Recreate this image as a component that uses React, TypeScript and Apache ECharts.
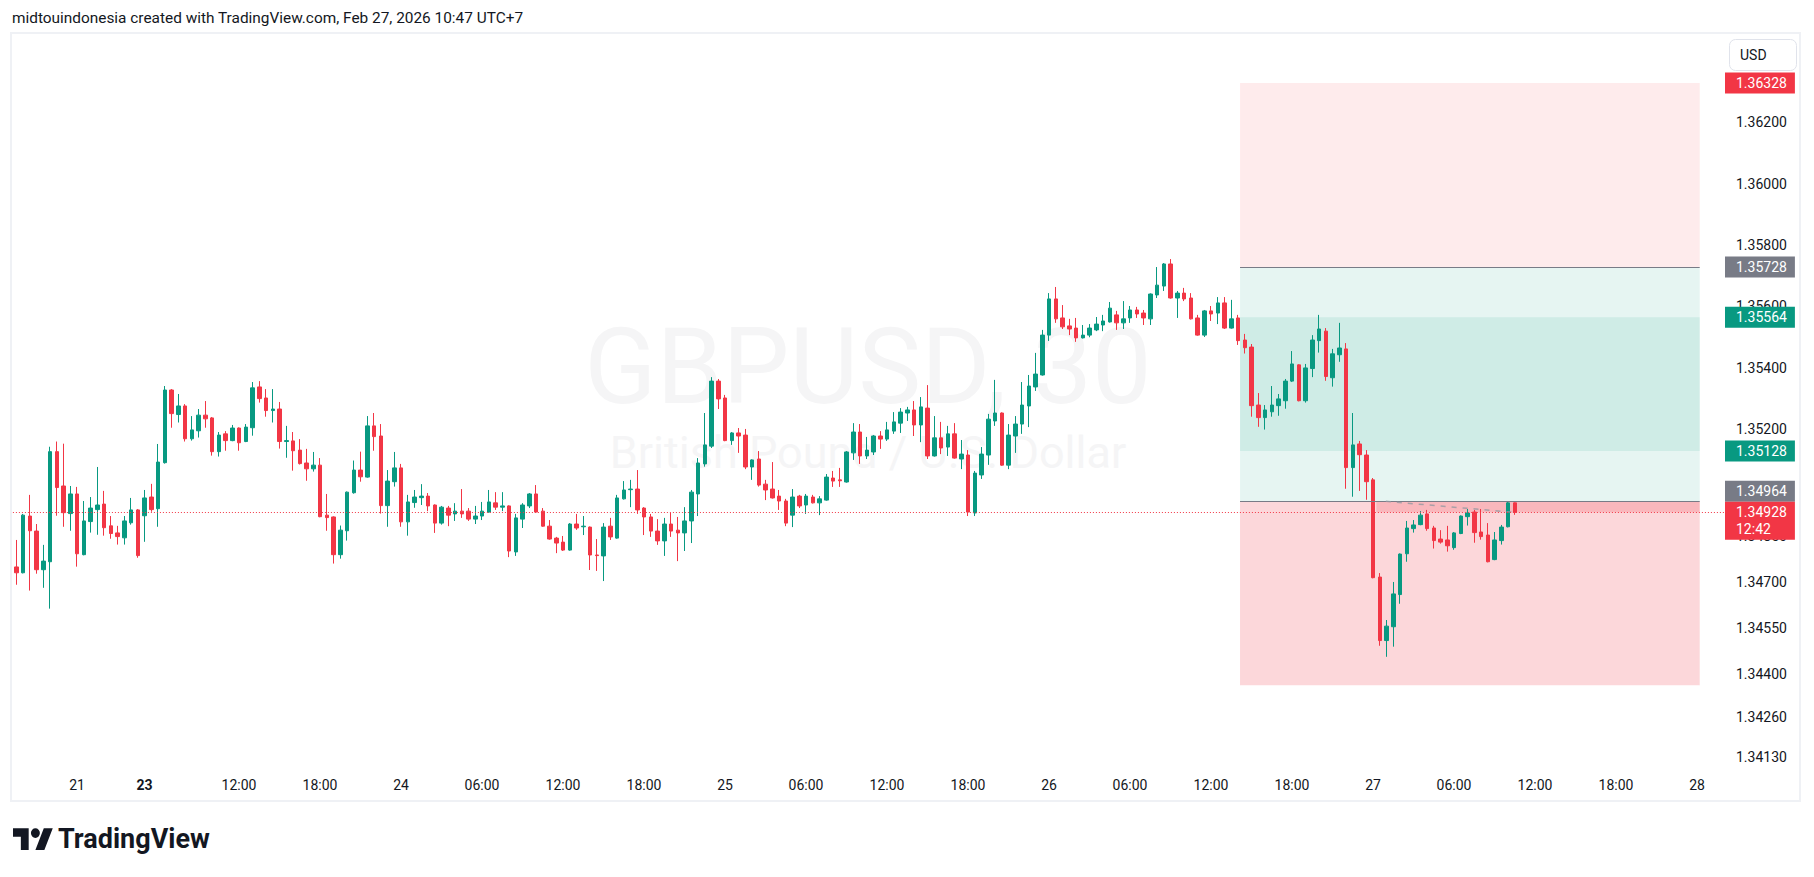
import React, { useEffect, useRef } from "react";
import * as echarts from "echarts";

// ---- candle data (30-minute bars, index 0 = Fri 20 Feb 19:30, UTC+7) ----
const OPENS = [
  1.34750, 1.34731, 1.34916, 1.34867, 1.34741, 1.34767, 1.35126, 1.35014, 1.34924, 1.34988,
  1.34790, 1.34898, 1.34937, 1.34955, 1.34884, 1.34861, 1.34845, 1.34894, 1.34936, 1.34917,
  1.34978, 1.34940, 1.35090, 1.35327, 1.35247, 1.35275, 1.35168, 1.35194, 1.35245, 1.35236,
  1.35126, 1.35184, 1.35162, 1.35203, 1.35159, 1.35204, 1.35337, 1.35301, 1.35260, 1.35265,
  1.35159, 1.35161, 1.35131, 1.35089, 1.35070, 1.35082, 1.34919, 1.34913, 1.34790, 1.34868,
  1.34992, 1.35066, 1.35043, 1.35210, 1.35177, 1.34950, 1.35028, 1.35073, 1.34897, 1.34960,
  1.34976, 1.34981, 1.34952, 1.34893, 1.34942, 1.34923, 1.34932, 1.34932, 1.34906, 1.34916,
  1.34929, 1.34959, 1.34945, 1.34949, 1.34799, 1.34906, 1.34949, 1.34988, 1.34932, 1.34883,
  1.34844, 1.34831, 1.34805, 1.34890, 1.34881, 1.34880, 1.34789, 1.34786, 1.34883, 1.34844,
  1.34972, 1.35002, 1.35004, 1.34942, 1.34913, 1.34867, 1.34835, 1.34890, 1.34870, 1.34861,
  1.34900, 1.34988, 1.35086, 1.35144, 1.35356, 1.35301, 1.35162, 1.35187, 1.35180, 1.35076,
  1.35102, 1.35020, 1.35004, 1.34981, 1.34965, 1.34919, 1.34981, 1.34952, 1.34978, 1.34959,
  1.34968, 1.35040, 1.35034, 1.35027, 1.35122, 1.35190, 1.35112, 1.35125, 1.35177, 1.35167,
  1.35193, 1.35219, 1.35252, 1.35262, 1.35213, 1.35268, 1.35112, 1.35171, 1.35141, 1.35184,
  1.35102, 1.35115, 1.34926, 1.35050, 1.35115, 1.35226, 1.35252, 1.35082, 1.35177, 1.35216,
  1.35275, 1.35337, 1.35376, 1.35506, 1.35624, 1.35562, 1.35536, 1.35529, 1.35497, 1.35506,
  1.35523, 1.35539, 1.35549, 1.35572, 1.35546, 1.35562, 1.35588, 1.35578, 1.35559, 1.35637,
  1.35666, 1.35738, 1.35627, 1.35643, 1.35627, 1.35562, 1.35506, 1.35585, 1.35578, 1.35611,
  1.35529, 1.35562, 1.35490, 1.35467, 1.35278, 1.35237, 1.35256, 1.35276, 1.35292, 1.35356,
  1.35409, 1.35292, 1.35397, 1.35488, 1.35519, 1.35367, 1.35442, 1.35461, 1.35074, 1.35151,
  1.35115, 1.35034, 1.34717, 1.34510, 1.34555, 1.34660, 1.34793, 1.34875, 1.34888, 1.34923,
  1.34877, 1.34841, 1.34838, 1.34813, 1.34859, 1.34914, 1.34929, 1.34864, 1.34854, 1.34774,
  1.34836, 1.34881, 1.34959,
];
const CLOSES = [
  1.34731, 1.34919, 1.34868, 1.34741, 1.34769, 1.35126, 1.35009, 1.34927, 1.34988, 1.34793,
  1.34900, 1.34942, 1.34952, 1.34878, 1.34859, 1.34849, 1.34900, 1.34936, 1.34787, 1.34975,
  1.34937, 1.35092, 1.35327, 1.35250, 1.35275, 1.35168, 1.35197, 1.35245, 1.35233, 1.35126,
  1.35180, 1.35162, 1.35203, 1.35155, 1.35206, 1.35334, 1.35299, 1.35260, 1.35265, 1.35159,
  1.35162, 1.35129, 1.35087, 1.35070, 1.35082, 1.34914, 1.34911, 1.34790, 1.34870, 1.34994,
  1.35066, 1.35044, 1.35210, 1.35175, 1.34950, 1.35030, 1.35073, 1.34897, 1.34962, 1.34978,
  1.34981, 1.34949, 1.34893, 1.34945, 1.34919, 1.34932, 1.34923, 1.34906, 1.34916, 1.34932,
  1.34962, 1.34945, 1.34949, 1.34802, 1.34910, 1.34952, 1.34988, 1.34929, 1.34883, 1.34841,
  1.34828, 1.34805, 1.34890, 1.34877, 1.34883, 1.34789, 1.34787, 1.34880, 1.34848, 1.34975,
  1.35001, 1.35004, 1.34936, 1.34913, 1.34867, 1.34835, 1.34890, 1.34867, 1.34861, 1.34900,
  1.34994, 1.35089, 1.35148, 1.35356, 1.35298, 1.35162, 1.35187, 1.35177, 1.35076, 1.35099,
  1.35017, 1.35001, 1.34975, 1.34965, 1.34893, 1.34978, 1.34949, 1.34981, 1.34959, 1.34972,
  1.35043, 1.35030, 1.35031, 1.35125, 1.35190, 1.35112, 1.35131, 1.35177, 1.35167, 1.35197,
  1.35223, 1.35255, 1.35262, 1.35213, 1.35272, 1.35112, 1.35171, 1.35138, 1.35184, 1.35105,
  1.35118, 1.34929, 1.35056, 1.35118, 1.35232, 1.35252, 1.35082, 1.35180, 1.35216, 1.35278,
  1.35340, 1.35379, 1.35506, 1.35624, 1.35559, 1.35533, 1.35526, 1.35497, 1.35506, 1.35529,
  1.35542, 1.35552, 1.35594, 1.35546, 1.35559, 1.35588, 1.35575, 1.35562, 1.35640, 1.35669,
  1.35738, 1.35627, 1.35643, 1.35624, 1.35559, 1.35506, 1.35585, 1.35575, 1.35611, 1.35529,
  1.35559, 1.35488, 1.35465, 1.35276, 1.35237, 1.35262, 1.35278, 1.35298, 1.35356, 1.35412,
  1.35292, 1.35399, 1.35490, 1.35526, 1.35371, 1.35445, 1.35464, 1.35074, 1.35148, 1.35116,
  1.35028, 1.34715, 1.34510, 1.34557, 1.34662, 1.34792, 1.34877, 1.34887, 1.34919, 1.34875,
  1.34836, 1.34831, 1.34819, 1.34861, 1.34916, 1.34926, 1.34862, 1.34849, 1.34767, 1.34838,
  1.34880, 1.34959, 1.34928,
];
const HIGHS = [
  1.34838, 1.34923, 1.34985, 1.34890, 1.34822, 1.35142, 1.35159, 1.35152, 1.35014, 1.35011,
  1.34965, 1.34978, 1.35076, 1.34998, 1.34916, 1.34884, 1.34916, 1.34975, 1.34939, 1.35001,
  1.35021, 1.35151, 1.35340, 1.35330, 1.35314, 1.35281, 1.35242, 1.35265, 1.35291, 1.35239,
  1.35190, 1.35193, 1.35213, 1.35205, 1.35216, 1.35353, 1.35356, 1.35330, 1.35330, 1.35288,
  1.35210, 1.35190, 1.35167, 1.35135, 1.35125, 1.35105, 1.34988, 1.34915, 1.34885, 1.34996,
  1.35097, 1.35126, 1.35242, 1.35252, 1.35216, 1.35066, 1.35125, 1.35086, 1.34985, 1.35001,
  1.35020, 1.34991, 1.34954, 1.34949, 1.34949, 1.34958, 1.35004, 1.34942, 1.34949, 1.34962,
  1.35001, 1.34994, 1.34994, 1.34951, 1.34923, 1.34958, 1.34991, 1.35017, 1.34942, 1.34903,
  1.34848, 1.34851, 1.34893, 1.34923, 1.34916, 1.34882, 1.34841, 1.34893, 1.34910, 1.34985,
  1.35030, 1.35034, 1.35066, 1.34945, 1.34923, 1.34906, 1.34910, 1.34926, 1.34913, 1.34945,
  1.35001, 1.35105, 1.35252, 1.35369, 1.35363, 1.35311, 1.35190, 1.35203, 1.35200, 1.35101,
  1.35128, 1.35034, 1.35092, 1.35001, 1.34972, 1.35004, 1.34985, 1.34988, 1.34985, 1.34981,
  1.35053, 1.35063, 1.35073, 1.35128, 1.35219, 1.35216, 1.35174, 1.35180, 1.35193, 1.35223,
  1.35255, 1.35268, 1.35272, 1.35291, 1.35304, 1.35343, 1.35242, 1.35223, 1.35210, 1.35219,
  1.35164, 1.35131, 1.35063, 1.35141, 1.35249, 1.35360, 1.35254, 1.35216, 1.35242, 1.35353,
  1.35376, 1.35448, 1.35523, 1.35643, 1.35663, 1.35604, 1.35559, 1.35562, 1.35539, 1.35542,
  1.35565, 1.35572, 1.35614, 1.35585, 1.35617, 1.35601, 1.35598, 1.35588, 1.35642, 1.35728,
  1.35741, 1.35754, 1.35650, 1.35660, 1.35643, 1.35572, 1.35588, 1.35601, 1.35630, 1.35630,
  1.35621, 1.35572, 1.35510, 1.35477, 1.35317, 1.35278, 1.35340, 1.35314, 1.35363, 1.35454,
  1.35411, 1.35412, 1.35506, 1.35572, 1.35529, 1.35461, 1.35546, 1.35480, 1.35252, 1.35161,
  1.35131, 1.35040, 1.34730, 1.34577, 1.34701, 1.34794, 1.34900, 1.34903, 1.34932, 1.34936,
  1.34884, 1.34870, 1.34884, 1.34864, 1.34918, 1.34939, 1.34936, 1.34939, 1.34893, 1.34864,
  1.34887, 1.34962, 1.34960,
];
const LOWS = [
  1.34692, 1.34729, 1.34673, 1.34728, 1.34682, 1.34614, 1.34917, 1.34881, 1.34868, 1.34751,
  1.34788, 1.34862, 1.34855, 1.34852, 1.34842, 1.34823, 1.34823, 1.34888, 1.34780, 1.34832,
  1.34930, 1.34881, 1.35087, 1.35204, 1.35221, 1.35159, 1.35162, 1.35172, 1.35204, 1.35113,
  1.35110, 1.35129, 1.35160, 1.35129, 1.35157, 1.35178, 1.35286, 1.35240, 1.35221, 1.35136,
  1.35106, 1.35064, 1.35084, 1.35031, 1.35061, 1.34912, 1.34868, 1.34761, 1.34777, 1.34836,
  1.34989, 1.35028, 1.35041, 1.35129, 1.34924, 1.34881, 1.35012, 1.34881, 1.34852, 1.34943,
  1.34952, 1.34932, 1.34861, 1.34888, 1.34883, 1.34900, 1.34910, 1.34900, 1.34890, 1.34903,
  1.34927, 1.34936, 1.34932, 1.34782, 1.34786, 1.34877, 1.34942, 1.34927, 1.34881, 1.34839,
  1.34795, 1.34802, 1.34803, 1.34871, 1.34854, 1.34740, 1.34737, 1.34704, 1.34838, 1.34842,
  1.34970, 1.34945, 1.34923, 1.34854, 1.34848, 1.34822, 1.34786, 1.34848, 1.34769, 1.34802,
  1.34828, 1.34916, 1.35077, 1.35138, 1.35265, 1.35160, 1.35148, 1.35122, 1.35069, 1.35034,
  1.35012, 1.34968, 1.34973, 1.34936, 1.34883, 1.34880, 1.34942, 1.34923, 1.34957, 1.34919,
  1.34966, 1.35011, 1.35011, 1.35025, 1.35099, 1.35086, 1.35102, 1.35115, 1.35135, 1.35161,
  1.35184, 1.35187, 1.35226, 1.35177, 1.35157, 1.35102, 1.35110, 1.35118, 1.35112, 1.35103,
  1.35069, 1.34916, 1.34916, 1.35037, 1.35083, 1.35210, 1.35080, 1.35069, 1.35122, 1.35184,
  1.35206, 1.35324, 1.35374, 1.35487, 1.35546, 1.35526, 1.35506, 1.35484, 1.35495, 1.35499,
  1.35519, 1.35519, 1.35547, 1.35523, 1.35526, 1.35546, 1.35562, 1.35539, 1.35539, 1.35627,
  1.35650, 1.35625, 1.35562, 1.35617, 1.35557, 1.35504, 1.35500, 1.35552, 1.35542, 1.35526,
  1.35527, 1.35474, 1.35446, 1.35240, 1.35207, 1.35198, 1.35240, 1.35243, 1.35266, 1.35353,
  1.35290, 1.35286, 1.35369, 1.35449, 1.35357, 1.35338, 1.35419, 1.35005, 1.34979, 1.34998,
  1.34969, 1.34713, 1.34493, 1.34457, 1.34490, 1.34630, 1.34767, 1.34862, 1.34886, 1.34868,
  1.34810, 1.34826, 1.34800, 1.34806, 1.34857, 1.34885, 1.34829, 1.34839, 1.34765, 1.34772,
  1.34823, 1.34879, 1.34920,
];

// ---- time scale ticks (bar index -> label) ----
const X_TICK_INDEX = [9, 19, 33, 45, 57, 69, 81, 93, 105, 117, 129, 141, 153, 165, 177, 189, 201, 213, 225, 237, 249];
const X_TICK_TEXT = ["21", "23", "12:00", "18:00", "24", "06:00", "12:00", "18:00", "25", "06:00", "12:00", "18:00", "26", "06:00", "12:00", "18:00", "27", "06:00", "12:00", "18:00", "28"];
const X_TICK_BOLD = ["23"];

// ---- price scale ticks ----
const Y_TICKS = [1.362, 1.36, 1.358, 1.356, 1.354, 1.352, 1.35, 1.3485, 1.347, 1.3455, 1.344, 1.3426, 1.3413];

// ---- axis extents ----
const X_MIN = -0.504;
const X_MAX = 253.0;
const Y_MIN = 1.340846;
const Y_MAX = 1.364912;

// ---- position tools (bar index range, price levels) ----
const SHORT_TOOL = { from: 181.3, to: 249.4, entry: 1.35728, stop: 1.36328, target: 1.35128 };
const LONG_TOOL = { from: 181.3, to: 249.4, entry: 1.34964, stop: 1.34364, target: 1.35564 };
const LONG_OPEN = { from: 201.5, lineFrom: 202.9, lineTo: 222 };
const LAST_PRICE = 1.34928;
const COUNTDOWN = "12:42";

const PRICE_TAGS = [
  { value: 1.36328, color: "#f23645", shift: 0 },
  { value: 1.35728, color: "#787b86", shift: 0 },
  { value: 1.35564, color: "#089981", shift: 0 },
  { value: 1.35128, color: "#089981", shift: 0 },
  { value: 1.34964, color: "#787b86", shift: -10 },
];

const FONT = "Roboto";
const TEXT = "#131722";

const TV_LOGO =
  "M14 22H7V11H0V4h14v18zM28 22h-8l7.5-18h8L28 22zM24 8a4 4 0 1 1-8 0a4 4 0 1 1 8 0z";

export default function App() {
  const ref = useRef<HTMLDivElement>(null);

  useEffect(() => {
    if (!ref.current) return;
    try {
      echarts.graphic.registerShape("tvlogo", echarts.graphic.extendPath(TV_LOGO, {}));
    } catch (e) {}
    const chart = echarts.init(ref.current, null, { renderer: "svg" });

    const candles = OPENS.map((o, i) => [i, o, CLOSES[i], LOWS[i], HIGHS[i]]);

    const tagLabel = (text: string, color: string, shift: number) => ({
      show: true,
      position: "end",
      distance: 1,
      formatter: text,
      color: "#ffffff",
      backgroundColor: color,
      padding: [3, 8, 3, 11],
      fontSize: 14,
      lineHeight: 15,
      fontFamily: FONT,
      offset: [0, shift],
    });

    const fullLine = (value: number, lineStyle: any, label: any) => [
      { coord: [X_MIN, value], lineStyle, label },
      { coord: [X_MAX, value] },
    ];

    const markLineData: any[] = [
      [
        { coord: [SHORT_TOOL.from, SHORT_TOOL.entry], lineStyle: { color: "#787b86", width: 1, type: "solid" }, label: { show: false } },
        { coord: [SHORT_TOOL.to, SHORT_TOOL.entry] },
      ],
      [
        { coord: [LONG_TOOL.from, LONG_TOOL.entry], lineStyle: { color: "#787b86", width: 1, type: "solid" }, label: { show: false } },
        { coord: [LONG_TOOL.to, LONG_TOOL.entry] },
      ],
      [
        { coord: [LONG_OPEN.lineFrom, LONG_TOOL.entry], lineStyle: { color: "#9598a1", width: 1.5, type: [5, 6], opacity: 0.8 }, label: { show: false } },
        { coord: [LONG_OPEN.lineTo, LAST_PRICE] },
      ],
      ...PRICE_TAGS.map((t) =>
        fullLine(t.value, { color: "rgba(0,0,0,0)", width: 1, opacity: 1 }, tagLabel(t.value.toFixed(5), t.color, t.shift))
      ),
      fullLine(LAST_PRICE, { color: "#f23645", width: 1, type: [1, 2] }, {
        ...tagLabel(LAST_PRICE.toFixed(5) + "\n" + COUNTDOWN, "#f23645", 8.5),
        lineHeight: 17,
        padding: [2, 8, 2, 11],
      }),
    ];

    const teal = "rgba(8,153,129,0.1)";
    const pinkLight = "rgba(242,54,69,0.1)";
    const pink = "rgba(242,54,69,0.2)";

    const markAreaData: any[] = [
      [{ xAxis: SHORT_TOOL.from, yAxis: SHORT_TOOL.stop, itemStyle: { color: pinkLight } }, { xAxis: SHORT_TOOL.to, yAxis: SHORT_TOOL.entry }],
      [{ xAxis: SHORT_TOOL.from, yAxis: SHORT_TOOL.entry, itemStyle: { color: teal } }, { xAxis: SHORT_TOOL.to, yAxis: SHORT_TOOL.target }],
      [{ xAxis: LONG_TOOL.from, yAxis: LONG_TOOL.target, itemStyle: { color: teal } }, { xAxis: LONG_TOOL.to, yAxis: LONG_TOOL.entry }],
      [{ xAxis: LONG_TOOL.from, yAxis: LONG_TOOL.entry, itemStyle: { color: pink } }, { xAxis: LONG_TOOL.to, yAxis: LONG_TOOL.stop }],
      [{ xAxis: LONG_OPEN.from, yAxis: LONG_TOOL.entry, itemStyle: { color: pink } }, { xAxis: LONG_TOOL.to, yAxis: LAST_PRICE }],
    ];

    const option: any = {
      animation: false,
      backgroundColor: "#ffffff",
      grid: {
        left: 12.9,
        right: 90,
        top: 33,
        bottom: 106,
        containLabel: false,
        outerBoundsMode: "none",
      },
      xAxis: {
        type: "value",
        min: X_MIN,
        max: X_MAX,
        axisLine: { show: false },
        axisTick: { show: false },
        splitLine: { show: false },
        axisLabel: {
          customValues: X_TICK_INDEX,
          margin: 7,
          fontSize: 14,
          color: TEXT,
          fontFamily: FONT,
          formatter: (v: number) => {
            const k = X_TICK_INDEX.indexOf(Math.round(v));
            if (k < 0) return "";
            const t = X_TICK_TEXT[k];
            return X_TICK_BOLD.includes(t) ? "{b|" + t + "}" : t;
          },
          rich: { b: { fontWeight: "bold", fontSize: 14, color: TEXT, fontFamily: FONT } },
        },
      },
      yAxis: {
        type: "value",
        position: "right",
        min: Y_MIN,
        max: Y_MAX,
        scale: true,
        axisLine: { show: false },
        axisTick: { show: false },
        splitLine: { show: false },
        axisLabel: {
          customValues: Y_TICKS,
          margin: 12,
          fontSize: 14,
          color: TEXT,
          fontFamily: FONT,
          formatter: (v: number) => v.toFixed(5),
        },
      },
      graphic: [
        {
          type: "rect",
          z: -10,
          shape: { x: 11, y: 33, width: 1789, height: 768 },
          style: { fill: "none", stroke: "#eff1f5", lineWidth: 2 },
          silent: true,
        },
        {
          type: "text",
          x: 12,
          y: 18,
          style: { text: "midtouindonesia created with TradingView.com, Feb 27, 2026 10:47 UTC+7", font: "15.4px Roboto", fill: TEXT, textVerticalAlign: "middle" },
          silent: true,
        },
        {
          type: "text",
          x: 868,
          y: 367,
          z: -5,
          style: { text: "GBPUSD, 30", font: "106px Roboto", fill: "#f5f5f6", textAlign: "center", textVerticalAlign: "middle" },
          silent: true,
        },
        {
          type: "text",
          x: 868,
          y: 452,
          z: -5,
          style: { text: "British Pound / U.S. Dollar", font: "45px Roboto", fill: "#f5f5f6", textAlign: "center", textVerticalAlign: "middle" },
          silent: true,
        },
        {
          type: "rect",
          shape: { x: 1729.5, y: 39.5, width: 67, height: 31, r: 6 },
          style: { fill: "#ffffff", stroke: "#e0e3eb", lineWidth: 1 },
          silent: true,
        },
        {
          type: "text",
          x: 1740,
          y: 55,
          style: { text: "USD", font: "14px Roboto", fill: TEXT, textVerticalAlign: "middle" },
          silent: true,
        },
        {
          type: "tvlogo",
          x: 13,
          y: 823.5,
          scaleX: 1.12,
          scaleY: 1.2,
          style: { fill: TEXT },
          silent: true,
        },
        {
          type: "text",
          x: 58,
          y: 839,
          style: { text: "TradingView", font: "bold 27px Roboto", fill: TEXT, textVerticalAlign: "middle" },
          silent: true,
        },
      ],
      series: [
        {
          type: "candlestick",
          data: candles,
          encode: { x: 0, y: [1, 2, 3, 4] },
          barWidth: 4,
          silent: true,
          z: 3,
          itemStyle: {
            color: "#089981",
            color0: "#f23645",
            borderColor: "#089981",
            borderColor0: "#f23645",
            borderWidth: 1,
          },
          emphasis: { disabled: true },
          markArea: {
            silent: true,
            label: { show: false },
            emphasis: { disabled: true },
            data: markAreaData,
          },
          markLine: {
            silent: true,
            symbol: ["none", "none"],
            emphasis: { disabled: true },
            animation: false,
            data: markLineData,
          },
        },
      ],
    };

    chart.setOption(option);
    return () => chart.dispose();
  }, []);

  return (
    <div
      ref={ref}
      style={{ position: "fixed", left: 0, top: 0, width: 1814, height: 877, background: "#fff" }}
    />
  );
}
